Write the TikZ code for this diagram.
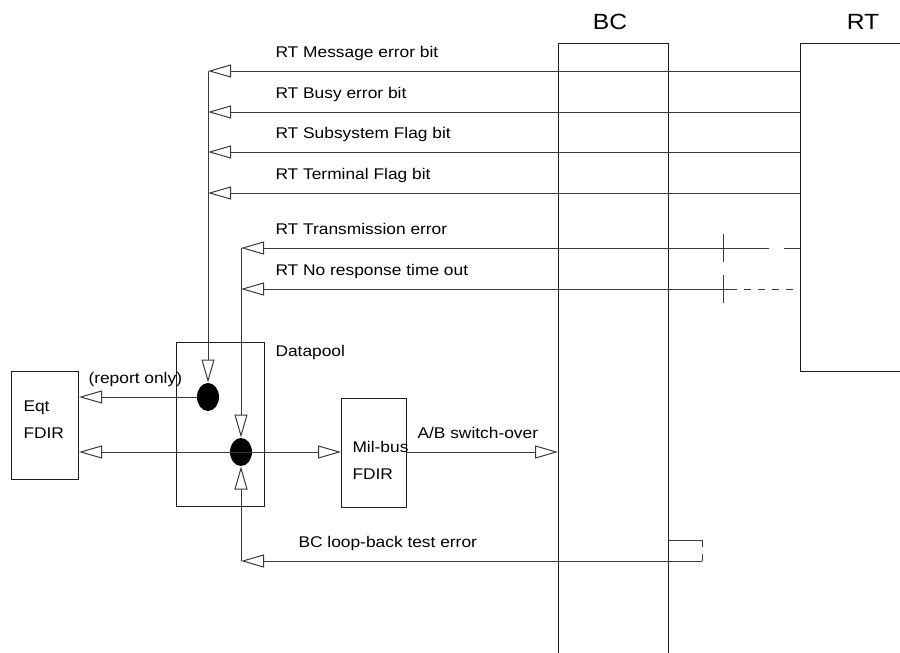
\documentclass[tikz,border=0pt]{standalone}
\usepackage{fontspec}
\setmainfont{Liberation Sans}[FakeStretch=1.12]
\usepackage{tikz}
\usetikzlibrary{arrows.meta,positioning,shapes.geometric}
\definecolor{ink}{HTML}{1E1E1E}
\definecolor{ink2}{HTML}{3A3A3A}
\tikzset{
  >={Triangle[open,length=23pt,width=13pt]},
  every picture/.style={line width=1pt,draw=ink},
  bx/.style={draw=ink,fill=white,inner sep=0pt,anchor=north west},
  dot/.style={ellipse,fill=black,draw=none,minimum width=22,minimum height=28,inner sep=0pt},
  arr/.style={->,draw=ink2},
  ln/.style={draw=ink2},
  dsh/.style={draw=ink2,dash pattern=on 7pt off 7pt},
  lab/.style={anchor=base west,inner sep=0pt,text=black},
  ttl/.style={inner sep=0pt,text=black,font=\fontsize{22}{26}\selectfont},
}
\begin{document}
\begin{tikzpicture}[x=1pt,y=-1pt,font=\fontsize{15.5}{27}\selectfont]
  \useasboundingbox (0,0) rectangle (900,653);
  % blocks
  \node[bx,minimum width=110,minimum height=640] (bc) at (558,43) {};
  \node[bx,minimum width=130,minimum height=328] (rt) at (800,43) {};
  \node[bx,minimum width=67,minimum height=108] (eqt) at (11,371) {};
  \node[bx,minimum width=88,minimum height=164] (dp) at (176,342) {};
  \node[bx,minimum width=65,minimum height=109] (mil) at (341,398) {};
  \node[dot] (j1) at (208,397) {};
  \node[dot] (j2) at (241,452) {};
  \node[ttl] (bct) at (610,22) {BC};
  \node[ttl] (rtt) at (863,22) {RT};
  \node[lab,align=left,anchor=north west] (eqtt) at (23,400) {Eqt\\FDIR};
  \node[lab,align=left,anchor=north west] (milt) at (352,441) {Mil-bus\\FDIR};
  \node[lab] (dpt) at (275,356) {Datapool};
  % bend points of the status lines
  \coordinate (b1) at (j1 |- 0,71);
  \coordinate (b2) at (j1 |- 0,112);
  \coordinate (b3) at (j1 |- 0,152);
  \coordinate (b4) at (j1 |- 0,193);
  \coordinate (b5) at (j2 |- 0,248);
  \coordinate (b6) at (j2 |- 0,289);
  \coordinate (b7) at (j2 |- 0,561);
  \coordinate (te) at (769,248);
  \coordinate (nr) at (730,289);
  \coordinate (lb) at (702,561);
  \coordinate (lt) at (702,540);
  % RT status bits
  \draw[arr] (b1 -| rt.west) -- (b1);
  \draw[arr] (b2 -| rt.west) -- (b2);
  \draw[arr] (b3 -| rt.west) -- (b3);
  \draw[arr] (b4 -| rt.west) -- (b4);
  \node[lab] (l1) at (275,57) {RT Message error bit};
  \node[lab] (l2) at (275,98) {RT Busy error bit};
  \node[lab] (l3) at (275,138) {RT Subsystem Flag bit};
  \node[lab] (l4) at (275,179) {RT Terminal Flag bit};
  \draw[arr] (b1) -- (j1.north);
  \draw[arr] (j1.west) -- (j1.west -| eqt.east);
  \node[lab] (rep) at (88,383) {(report only)};
  % transmission errors
  \draw[arr] (te) -- (b5);
  \draw[ln] (b5 -| rt.west) -- ++(-16,0);
  \draw[arr] (nr) -- (b6);
  \draw[dsh] (nr) -- ++(63,0);
  \draw[ln] (723,234) -- (723,262);
  \draw[ln] (723,275) -- (723,303);
  \node[lab] (l5) at (275,234) {RT Transmission error};
  \node[lab] (l6) at (275,275) {RT No response time out};
  \draw[arr] (b5) -- (j2.north);
  \draw[arr] (b7) -- (j2.south);
  % datapool to FDIRs
  \draw[<->,draw=ink2] (j2 -| eqt.east) -- (j2 -| mil.west);
  \draw[arr] (j2 -| mil.east) -- (j2 -| bc.west);
  \node[lab] (ab) at (417,438) {A/B switch-over};
  % loop-back
  \draw[ln] (lt -| bc.east) -- (lt);
  \draw[dsh] (lt) -- (lb);
  \draw[arr] (lb) -- (b7);
  \node[lab] (l7) at (298,547) {BC loop-back test error};
\end{tikzpicture}
\end{document}
